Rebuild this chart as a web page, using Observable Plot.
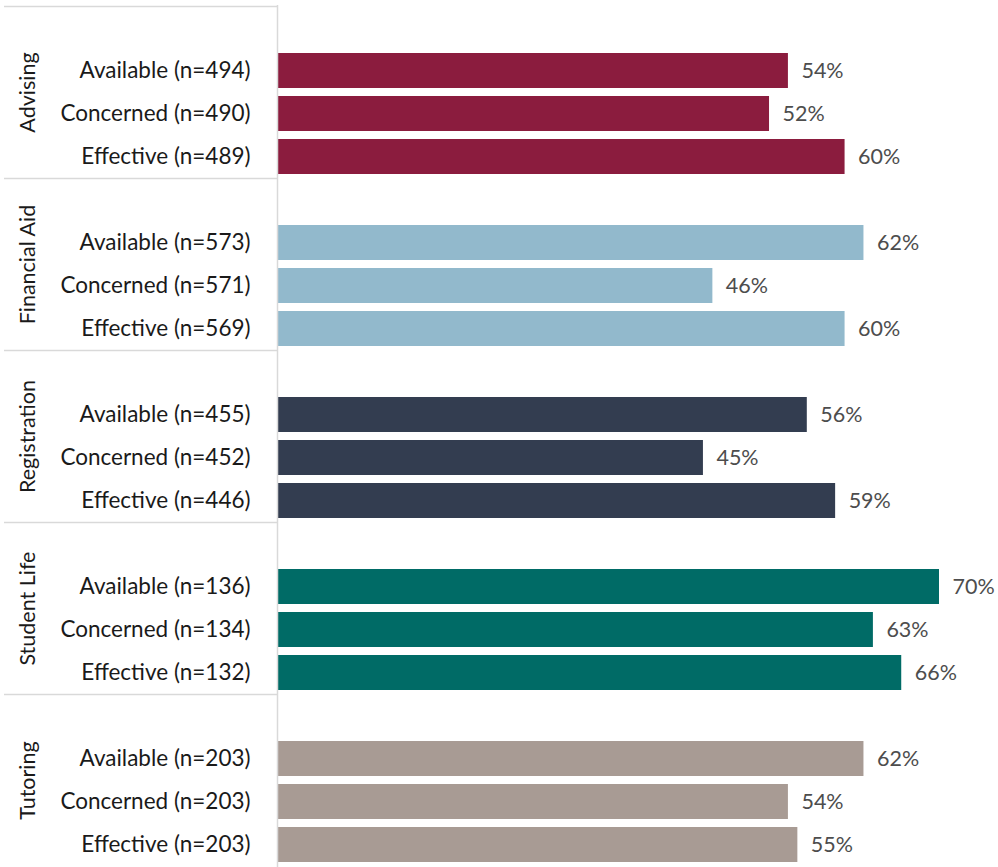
<!DOCTYPE html>
<html>
<head>
<meta charset="utf-8">
<script src="https://cdn.jsdelivr.net/npm/d3@7"></script>
<script src="https://cdn.jsdelivr.net/npm/@observablehq/plot@0.6"></script>
<style>
  html, body { margin: 0; padding: 0; background: #fff; }
  #chart svg { display: block; }
</style>
</head>
<body>
<div id="chart"></div>
<script>
const groups = ["Advising", "Financial Aid", "Registration", "Student Life", "Tutoring"];
const measures = ["Available", "Concerned", "Effective"];
const nValues = [
  [494, 490, 489],
  [573, 571, 569],
  [455, 452, 446],
  [136, 134, 132],
  [203, 203, 203]
];
const percents = [
  [54, 52, 60],
  [62, 46, 60],
  [56, 45, 59],
  [70, 63, 66],
  [62, 54, 55]
];
const groupColors = ["#8B1C3E", "#92B9CC", "#333D50", "#006B66", "#A89B94"];

const W = 998, H = 867, mTop = 5, mBottom = 0, mLeft = 278, mRight = 59;
const rowsPerGroup = measures.length + 1;
const step = (H - mTop - mBottom) / (groups.length * rowsPerGroup);

const domain = [];
const rows = [];
const labelOf = new Map();
groups.forEach((g, gi) => {
  const spacer = g + "|";
  domain.push(spacer);
  labelOf.set(spacer, "");
  measures.forEach((m, mi) => {
    const key = g + "|" + m;
    domain.push(key);
    labelOf.set(key, `${m} (n=${nValues[gi][mi]})`);
    rows.push({key, group: g, value: percents[gi][mi], color: groupColors[gi]});
  });
});
const groupRows = groups.map(g => ({group: g, spacer: g + "|", mid: g + "|" + measures[0]}));

const font = "Lato, 'Open Sans', sans-serif";

const chart = Plot.plot({
  width: W,
  height: H,
  marginTop: mTop,
  marginBottom: mBottom,
  marginLeft: mLeft,
  marginRight: mRight,
  style: {fontFamily: font, background: "#fff"},
  x: {domain: [0, 70], axis: null},
  y: {domain, padding: 0, axis: null},
  marks: [
    Plot.barX(rows, {y: "key", x: "value", fill: "color", insetTop: 4, insetBottom: 4}),
    Plot.ruleX([0], {stroke: "#d9d9d9", strokeWidth: 1.5, dx: -1}),
    Plot.ruleY(groupRows, {y: "spacer", x1: 0, x2: 0, insetLeft: -274, dy: -step / 2, stroke: "#d9d9d9", strokeWidth: 1.5}),
    Plot.text(domain.filter(k => labelOf.get(k)), {
      y: d => d, x: 0, text: d => labelOf.get(d), textAnchor: "end", dx: -28,
      fontSize: 22.5, fill: "#1a1a1a"
    }),
    Plot.text(rows, {
      y: "key", x: "value", text: d => d.value + "%", textAnchor: "start", dx: 13,
      fontSize: 21.5, fill: "#4d4d4d"
    }),
    Plot.text(groupRows, {
      y: "mid", x: 0, text: "group", rotate: -90, textAnchor: "middle", dx: -250, dy: step / 2,
      fontSize: 21.5, fill: "#1a1a1a"
    })
  ]
});
document.getElementById("chart").appendChild(chart);
</script>
</body>
</html>
